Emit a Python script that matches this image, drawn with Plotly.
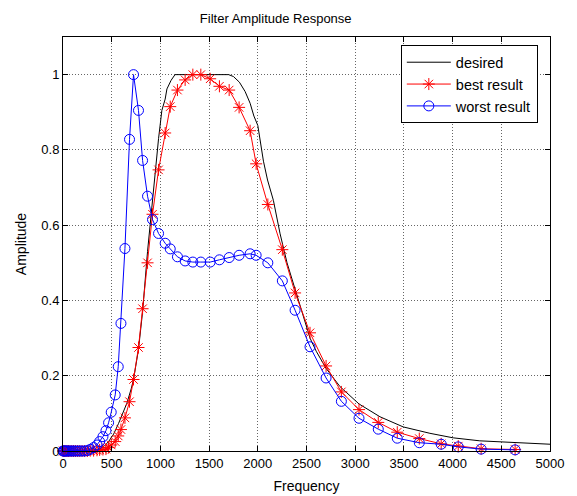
import plotly.graph_objects as go

# Shared frequency grid for the two result series (Hz)
freq = [0, 8, 18, 30, 42, 56, 72, 90, 108, 128, 150, 172, 196, 222, 250,
        280, 314, 349, 376, 410, 441, 468, 495, 536, 567, 595, 636, 683,
        724, 775, 817, 868, 919, 981, 1049, 1101, 1175, 1254, 1333, 1415,
        1511, 1606, 1706, 1808, 1921, 1983, 2103, 2252, 2383, 2536, 2701,
        2858, 3039, 3237, 3432, 3658, 3883, 4058, 4293, 4642]

best = [0, 0, 0, 0, 0, 0, 0, 0, 0, 0, 0, 0, 0, 0, 0,
        0.001, 0.001, 0.002, 0.003, 0.004, 0.005, 0.009, 0.016, 0.025, 0.040,
        0.057, 0.088, 0.131, 0.190, 0.275, 0.378, 0.500, 0.629, 0.747, 0.845,
        0.915, 0.959, 0.986, 1.000, 1.000, 0.989, 0.969, 0.959, 0.913, 0.851,
        0.763, 0.655, 0.535, 0.420, 0.314, 0.226, 0.157, 0.110, 0.076, 0.050,
        0.033, 0.019, 0.013, 0.006, 0.004]

worst = [0, 0, 0, 0, 0, 0, 0, 0, 0, 0, 0, 0, 0, 0, 0.001,
         0.0045, 0.009, 0.016, 0.025, 0.038, 0.054, 0.075, 0.103, 0.149, 0.224,
         0.339, 0.538, 0.828, 1.000, 0.905, 0.772, 0.677, 0.615, 0.578, 0.552,
         0.537, 0.516, 0.505, 0.502, 0.502, 0.502, 0.508, 0.514, 0.520, 0.524,
         0.520, 0.500, 0.452, 0.374, 0.277, 0.194, 0.132, 0.087, 0.058, 0.034,
         0.022, 0.018, 0.011, 0.005, 0.003]

# Desired response (own grid)
freq_desired = [0, 250, 300, 365, 420, 468, 520, 570, 620, 656, 700, 724, 775,
                817, 868, 900, 940, 981, 1015, 1049, 1067, 1110, 1150, 1700,
                1750, 1811, 1870, 1921, 1960, 2000, 2058, 2100, 2160, 2229,
                2300, 2383, 2450, 2536, 2600, 2700, 2844, 3039, 3254, 3493,
                3767, 4006, 4280, 4622, 5000]
desired = [0, 0, 0.001, 0.004, 0.012, 0.025, 0.045, 0.073, 0.103, 0.127, 0.165,
           0.19, 0.27, 0.37, 0.53, 0.62, 0.72, 0.83, 0.905, 0.935, 0.962,
           0.985, 1.0, 1.0, 0.995, 0.98, 0.955, 0.924, 0.89, 0.865, 0.77, 0.72,
           0.666, 0.577, 0.5, 0.43, 0.37, 0.30, 0.265, 0.22, 0.171, 0.125,
           0.091, 0.064, 0.047, 0.035, 0.027, 0.022, 0.018]

x_ticks = [0, 500, 1000, 1500, 2000, 2500, 3000, 3500, 4000, 4500, 5000]
y_ticks = [0, 0.2, 0.4, 0.6, 0.8, 1]

FONT = "Liberation Sans, Arial, sans-serif"

fig = go.Figure()
fig.add_trace(go.Scatter(x=freq_desired, y=desired, mode="lines", name="desired",
                         line=dict(color="black", width=1)))
fig.add_trace(go.Scatter(x=freq, y=best, mode="lines+markers", name="best result",
                         line=dict(color="#ff0000", width=1),
                         marker=dict(symbol="asterisk-open", size=10,
                                     color="#ff0000",
                                     line=dict(color="#ff0000", width=1)),
                         cliponaxis=False))
fig.add_trace(go.Scatter(x=freq, y=worst, mode="lines+markers", name="worst result",
                         line=dict(color="#0000ff", width=1),
                         marker=dict(symbol="circle-open", size=10,
                                     color="#0000ff",
                                     line=dict(color="#0000ff", width=1)),
                         cliponaxis=False))

axis_common = dict(showline=True, linecolor="black", linewidth=1, mirror="allticks",
                   ticks="inside", ticklen=5, tickcolor="black",
                   showgrid=True, gridcolor="rgba(0,0,0,0.6)", griddash="1px,2px",
                   gridwidth=1, zeroline=False,
                   tickfont=dict(family=FONT, size=13, color="black"))

fig.update_xaxes(range=[0, 5000], tickvals=x_ticks,
                 ticktext=[str(v) for v in x_ticks],
                 title=dict(text="Frequency", font=dict(family=FONT, size=14, color="black"),
                            standoff=11),
                 **axis_common)
fig.update_yaxes(range=[0, 1.1], tickvals=y_ticks,
                 ticktext=["0", "0.2", "0.4", "0.6", "0.8", "1"],
                 title=dict(text="Amplitude", font=dict(family=FONT, size=14, color="black"),
                            standoff=11),
                 **axis_common)

fig.update_layout(
    width=577, height=496,
    margin=dict(l=55, r=35, t=29, b=53),
    paper_bgcolor="white", plot_bgcolor="white",
    title=dict(text="Filter Amplitude Response", x=0.464, xanchor="center",
               y=0.978, yanchor="middle",
               font=dict(family=FONT, size=13, color="black")),
    legend=dict(x=0.975, y=0.98, xanchor="right", yanchor="top",
                bgcolor="white", bordercolor="black", borderwidth=1,
                itemwidth=44,
                font=dict(family=FONT, size=14.5, color="black")),
    showlegend=True,
)

fig.write_html("out.html")
